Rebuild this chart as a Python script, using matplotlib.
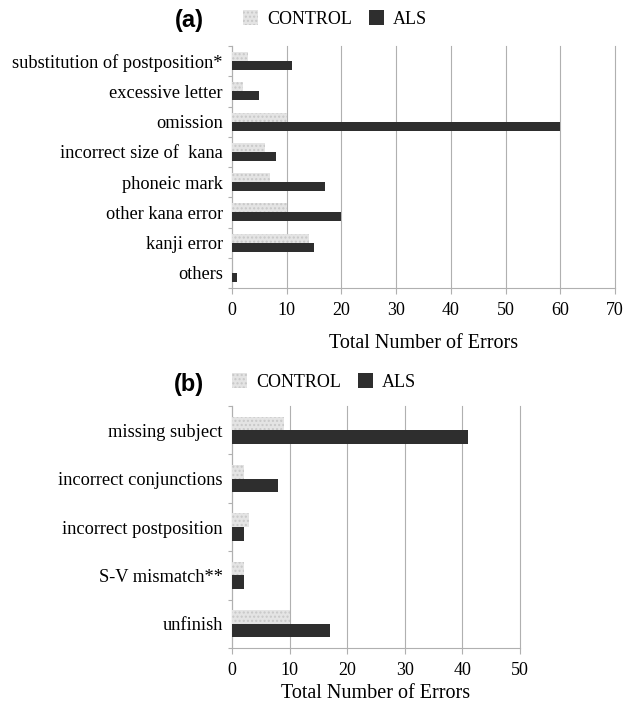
import matplotlib
matplotlib.use("Agg")
import matplotlib.pyplot as plt
import numpy as np
from matplotlib.patches import Patch

plt.rcParams['font.family'] = ['Liberation Serif', 'DejaVu Serif']

cats_a = ["substitution of postposition*", "excessive letter", "omission",
          "incorrect size of  kana", "phoneic mark", "other kana error",
          "kanji error", "others"]
control_a = [3, 2, 10, 6, 7, 10, 14, 0]
als_a = [11, 5, 60, 8, 17, 20, 15, 1]
xticks_a = [0, 10, 20, 30, 40, 50, 60, 70]

cats_b = ["missing subject", "incorrect conjunctions", "incorrect postposition",
          "S-V mismatch**", "unfinish"]
control_b = [9, 2, 3, 2, 10]
als_b = [41, 8, 2, 2, 17]
xticks_b = [0, 10, 20, 30, 40, 50]

CTRL_FACE = '#e4e4e4'
CTRL_EDGE = '#c8c8c8'
ALS_FACE = '#2e2e2e'
GRID = '#b0b0b0'

fig = plt.figure(figsize=(6.27, 7.04), dpi=100)

def panel(rect, cats, ctrl, als, xticks, bh, label, label_xy, leg_xy, lpad):
    ax = fig.add_axes(rect)
    n = len(cats)
    y = np.arange(n)
    ax.barh(y - bh / 2, ctrl, height=bh, color=CTRL_FACE, edgecolor=CTRL_EDGE,
            hatch='....', linewidth=0, zorder=3, label='CONTROL')
    ax.barh(y + bh / 2, als, height=bh, color=ALS_FACE, linewidth=0,
            zorder=3, label='ALS')
    ax.set_ylim(n - 0.5, -0.5)
    ax.set_xlim(xticks[0], xticks[-1])
    ax.set_xticks(xticks)
    ax.set_yticks(y)
    ax.set_yticklabels(cats, fontsize=13.2)
    ax.set_yticks(np.arange(n + 1) - 0.5, minor=True)
    ax.tick_params(axis='y', which='major', length=0, pad=6.5)
    ax.tick_params(axis='y', which='minor', length=3, color=GRID, width=0.8)
    ax.tick_params(axis='x', length=4, color=GRID, labelsize=13, pad=6)
    ax.xaxis.grid(True, color=GRID, linewidth=0.8, zorder=0)
    for gl in ax.get_xgridlines():
        gl.set_clip_on(False)
    for s in ['top', 'right']:
        ax.spines[s].set_visible(False)
    for s in ['left', 'bottom']:
        ax.spines[s].set_color(GRID)
        ax.spines[s].set_linewidth(0.8)
    ax.set_xlabel('Total Number of Errors', fontsize=14.5, labelpad=lpad)
    fig.text(label_xy[0], label_xy[1], label, family='Liberation Sans',
             fontweight='bold', fontsize=17, ha='center', va='center')
    handles = [Patch(facecolor=CTRL_FACE, edgecolor=CTRL_EDGE, hatch='....',
                     linewidth=0, label='CONTROL'),
               Patch(facecolor=ALS_FACE, linewidth=0, label='ALS')]
    ax.legend(handles=handles, loc='center left', bbox_to_anchor=leg_xy,
              bbox_transform=fig.transFigure, ncol=2, frameon=False,
              fontsize=13, handlelength=0.85, handleheight=0.9,
              handletextpad=0.5, columnspacing=0.9, borderpad=0,
              borderaxespad=0)
    return ax

panel([232 / 627, 1 - 288 / 704, 383 / 627, 242 / 704], cats_a, control_a,
      als_a, xticks_a, 0.3, '(a)', (189 / 627, 1 - 21 / 704),
      (243 / 627, 1 - 19 / 704), 11)
panel([232 / 627, 1 - 648 / 704, 288 / 627, 242 / 704], cats_b, control_b,
      als_b, xticks_b, 0.28, '(b)', (189 / 627, 1 - 384 / 704),
      (232 / 627, 1 - 382 / 704), 4)

fig.savefig('out.png', dpi=100)
